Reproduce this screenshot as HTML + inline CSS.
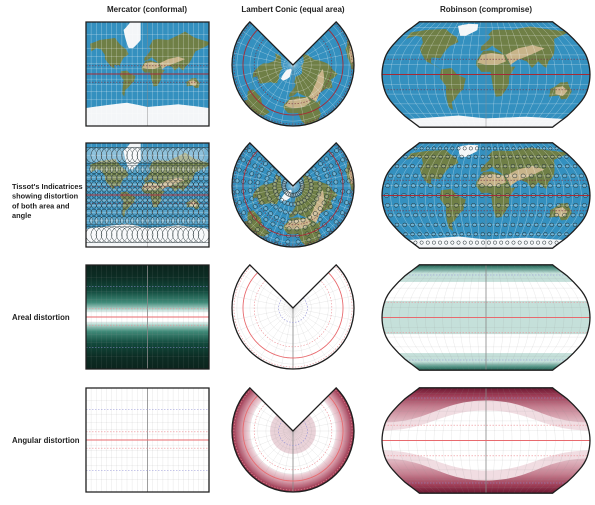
<!DOCTYPE html>
<html><head><meta charset="utf-8"><style>
html,body{margin:0;padding:0;background:#fff;}
svg{display:block;font-family:"Liberation Sans",sans-serif;}
</style></head><body>
<svg id="fig" width="595" height="505" viewBox="0 0 595 505" xmlns="http://www.w3.org/2000/svg">
<defs>
<linearGradient id="mercArea" x1="0" y1="0" x2="0" y2="1">
<stop offset="0" stop-color="#0b241d"/><stop offset="0.12" stop-color="#0c2d24"/><stop offset="0.25" stop-color="#124a3d"/><stop offset="0.36" stop-color="#3f8a78"/><stop offset="0.43" stop-color="#b9dcd4"/><stop offset="0.46" stop-color="#ffffff"/><stop offset="0.54" stop-color="#ffffff"/><stop offset="0.57" stop-color="#b9dcd4"/><stop offset="0.64" stop-color="#3f8a78"/><stop offset="0.75" stop-color="#124a3d"/><stop offset="0.88" stop-color="#0c2d24"/><stop offset="1" stop-color="#0b241d"/>
</linearGradient>
<radialGradient id="conAng" gradientUnits="userSpaceOnUse" cx="293" cy="431" r="61">
<stop offset="0" stop-color="#ead3d9"/><stop offset="0.37" stop-color="#ead3d9"/><stop offset="0.38" stop-color="#ffffff"/><stop offset="0.7" stop-color="#ffffff"/><stop offset="0.72" stop-color="#efd6dc"/><stop offset="0.84" stop-color="#d59aa8"/><stop offset="0.93" stop-color="#b4596f"/><stop offset="1" stop-color="#8c2a44"/>
</radialGradient>
<linearGradient id="robAng" x1="0" y1="0" x2="0" y2="1">
<stop offset="0" stop-color="#6a1830"/><stop offset="0.07" stop-color="#9c3a54"/><stop offset="0.18" stop-color="#c47e8f"/><stop offset="0.32" stop-color="#e2bac4"/><stop offset="0.5" stop-color="#ecd0d6"/><stop offset="0.68" stop-color="#e2bac4"/><stop offset="0.82" stop-color="#c47e8f"/><stop offset="0.93" stop-color="#9c3a54"/><stop offset="1" stop-color="#6a1830"/>
</linearGradient>
<linearGradient id="robArea" x1="0" y1="0" x2="0" y2="1">
<stop offset="0" stop-color="#1f5e50"/><stop offset="0.04" stop-color="#5f9d8f"/><stop offset="0.08" stop-color="#c5e0da"/><stop offset="0.16" stop-color="#c5e0da"/><stop offset="0.165" stop-color="#ffffff"/><stop offset="0.34" stop-color="#ffffff"/><stop offset="0.345" stop-color="#c5e0da"/><stop offset="0.655" stop-color="#c5e0da"/><stop offset="0.66" stop-color="#ffffff"/><stop offset="0.835" stop-color="#ffffff"/><stop offset="0.84" stop-color="#c5e0da"/><stop offset="0.92" stop-color="#c5e0da"/><stop offset="0.96" stop-color="#5f9d8f"/><stop offset="1" stop-color="#1f5e50"/>
</linearGradient>
</defs>
<g font-size="8" font-weight="bold" fill="#222" text-anchor="middle">
<text x="147" y="12">Mercator (conformal)</text>
<text x="293" y="12">Lambert Conic (equal area)</text>
<text x="486" y="12">Robinson (compromise)</text>
</g>
<g font-size="7.4" font-weight="bold" fill="#222">
<text x="12" y="189"><tspan x="12">Tissot's Indicatrices</tspan><tspan x="12" dy="9.7">showing distortion</tspan><tspan x="12" dy="9.7">of both area and</tspan><tspan x="12" dy="9.7">angle</tspan></text>
<text x="12" y="320" font-size="7.8">Areal distortion</text>
<text x="12" y="443" font-size="7.8">Angular distortion</text>
</g>
<g id="maps"></g>
</svg>
<script>
// ---- data ----
const rowTops = [22, 143, 265, 388];
const gratLats = [-75,-60,-45,-30,-15,15,30,45,60,75];
const gratLons = [-165,-150,-135,-120,-105,-90,-75,-60,-45,-30,-15,0,15,30,45,60,75,90,105,120,135,150,165];
const tropicLats = [23.4, -23.4];
const polarLats = [66.5, -66.5];
const robX = [1,0.9986,0.9954,0.99,0.9822,0.973,0.96,0.9427,0.9216,0.8962,0.8679,0.84,0.81,0.78,0.745,0.71,0.68,0.655,0.64];
const robY = [0,0.062,0.124,0.186,0.248,0.31,0.372,0.434,0.4958,0.5571,0.6176,0.6769,0.7346,0.7903,0.8435,0.8936,0.9394,0.9761,1.0];
const landNames = ['north-america','south-america','eurasia','africa','australia'];
const landPolys = [
[[-168,66],[-140,70],[-95,72],[-80,65],[-62,58],[-55,50],[-70,43],[-76,35],[-81,25],[-97,26],[-97,18],[-85,12],[-78,8],[-92,15],[-105,20],[-117,32],[-124,40],[-125,49],[-135,58],[-150,60],[-165,55]],
[[-78,8],[-60,10],[-50,0],[-35,-6],[-40,-22],[-48,-28],[-58,-38],[-65,-42],[-68,-55],[-74,-50],[-72,-30],[-70,-18],[-80,-5]],
[[-10,36],[-9,43],[-2,48],[5,53],[10,58],[5,62],[15,70],[30,71],[60,70],[80,73],[110,77],[140,72],[180,68],[180,65],[160,60],[140,55],[130,42],[122,30],[110,20],[105,10],[100,13],[92,20],[80,10],[72,20],[57,25],[50,30],[43,13],[35,28],[30,32],[25,36],[12,44],[0,38]],
[[-17,21],[-10,30],[-5,36],[10,37],[32,31],[35,28],[43,12],[51,12],[40,-3],[40,-15],[35,-24],[28,-33],[18,-34],[12,-18],[9,-2],[8,4],[-8,4],[-17,14]],
[[114,-22],[122,-18],[130,-12],[137,-12],[142,-11],[146,-18],[153,-26],[150,-37],[140,-38],[132,-32],[115,-34]]
];
const desertNames = ['sahara','arabia-central-asia','australia-interior'];
const desertPolys = [
[[-15,18],[-8,30],[10,33],[32,30],[35,20],[20,15],[0,15]],
[[35,30],[60,40],[90,45],[110,40],[80,30],[55,22],[43,15]],
[[122,-20],[135,-18],[145,-25],[140,-33],[125,-30]]
];
const iceNames = ['greenland','antarctica'];
const icePolys = [
[[-55,60],[-43,60],[-20,70],[-20,82],[-45,83],[-70,78]],
[[-180,-70],[-60,-64],[0,-69],[90,-66],[180,-70],[180,-90],[-180,-90]]
];
const tissotLats = [-75,-60,-45,-30,-15,0,15,30,45,60,75];
const tissotLons = [-172,-157,-142,-127,-112,-97,-82,-67,-52,-37,-22,-7,7,22,37,52,67,82,97,112,127,142,157,172];

// ---- projections ----
const NS='http://www.w3.org/2000/svg';
const D=Math.PI/180;
function merc(top){const R=123/(2*Math.PI),cy=top+52;return (lon,lat)=>{const p=Math.max(-85,Math.min(85,lat))*D;return [86+(lon+180)/360*123, cy-R*Math.log(Math.tan(Math.PI/4+p/2))];};}
function conic(top){const cx=293,cy=top+43;return (lon,lat)=>{const r=50*Math.sqrt(Math.max(0,1-Math.sin(lat*D)));const a=0.75*lon*D;return [cx+r*Math.sin(a), cy+r*Math.cos(a)];};}
function rob(top){const cx=486,cy=top+52.5;return (lon,lat)=>{const al=Math.min(90,Math.abs(lat));const i=Math.min(17,Math.floor(al/5));const f=(al-i*5)/5;const X=robX[i]+(robX[i+1]-robX[i])*f;const Y=robY[i]+(robY[i+1]-robY[i])*f;return [cx+33.1*X*lon*D, cy-52.7*Y*Math.sign(lat)];};}
function dens(pts,closed){const out=[];const n=pts.length;const m=closed?n:n-1;for(let i=0;i<m;i++){const a=pts[i],b=pts[(i+1)%n];for(let k=0;k<8;k++){out.push([a[0]+(b[0]-a[0])*k/8,a[1]+(b[1]-a[1])*k/8]);}}if(!closed)out.push(pts[n-1]);return out;}
function pathOf(P,pts,closed){return dens(pts,closed).map((p,i)=>{const q=P(p[0],p[1]);return (i?'L':'M')+q[0].toFixed(2)+','+q[1].toFixed(2);}).join('')+(closed?'Z':'');}
function mk(tag,attrs,parent){const e=document.createElementNS(NS,tag);for(const k in attrs)e.setAttribute(k,attrs[k]);parent.appendChild(e);return e;}
function latLine(lat){const a=[];for(let l=-180;l<=180;l+=15)a.push([l,lat]);return a;}
function lonLine(lon){const a=[];for(let l=-90;l<=90;l+=15)a.push([lon,l]);return a;}

const maps=document.getElementById('maps');
const defs=document.querySelector('defs');
function outline(kind,top){
  if(kind==='merc')return 'M86,'+top+'h123v104h-123Z';
  if(kind==='conic'){const cx=293,cy=top+43,s=61*Math.SQRT1_2;return 'M'+cx+','+cy+'L'+(cx-s)+','+(cy-s)+'A61,61 0 1 0 '+(cx+s)+','+(cy-s)+'Z';}
  const P=rob(top);const L=[];for(let la=90;la>=-90;la-=5)L.push(P(-180,la));const Rr=[];for(let la=-90;la<=90;la+=5)Rr.push(P(180,la));
  return 'M'+L.map(p=>p[0].toFixed(2)+','+p[1].toFixed(2)).join('L')+'L'+Rr.map(p=>p[0].toFixed(2)+','+p[1].toFixed(2)).join('L')+'Z';
}
const kinds=['merc','conic','rob'];
const projFns={merc:merc,conic:conic,rob:rob};
let cid=0;
rowTops.forEach((top,row)=>{
  kinds.forEach(kind=>{
    const P=projFns[kind](top);
    const od=outline(kind,top);
    const cp=mk('clipPath',{id:'c'+cid},defs);
    mk('path',{d:od},cp);
    const g=mk('g',{'clip-path':'url(#c'+cid+')'},maps);
    
    
    cid++;
    if(row<2){
      const ocean=mk('path',{d:od,fill:'#3490bf'},g);
      
      
      landPolys.forEach((pl,i)=>{
        const e=mk('path',{d:pathOf(P,pl,true),fill:'#6f7f46'},g);
        
        
      });
      desertPolys.forEach((pl,i)=>{
        const e=mk('path',{d:pathOf(P,pl,true),fill:'#c8b48a'},g);
        
        
      });
      icePolys.forEach((pl,i)=>{
        const e=mk('path',{d:pathOf(P,pl,true),fill:'#f4f6f8'},g);
        
        
      });
    } else if(row===2){
      let fill='#fff';
      if(kind==='merc')fill='url(#mercArea)';
      if(kind==='rob')fill='url(#robArea)';
      const bg=mk('path',{d:od,fill:fill},g);
      
      
    } else {
      let fill='#fff';
      if(kind==='conic')fill='url(#conAng)';
      if(kind==='rob')fill='url(#robAng)';
      const bg=mk('path',{d:od,fill:fill},g);
      
      
      if(kind==='rob'){
        const cy=top+52.5;
        const l1=mk('path',{d:'M382,'+(cy-18)+'C430,'+(cy-18)+' 440,'+(cy-40)+' 486,'+(cy-40)+'C532,'+(cy-40)+' 542,'+(cy-18)+' 590,'+(cy-18)+'L590,'+(cy+18)+'C542,'+(cy+18)+' 532,'+(cy+40)+' 486,'+(cy+40)+'C440,'+(cy+40)+' 430,'+(cy+18)+' 382,'+(cy+18)+'Z',fill:'#f1dde2'},g);
        
        
        const l2=mk('path',{d:'M382,'+(cy-10)+'C430,'+(cy-10)+' 440,'+(cy-30)+' 486,'+(cy-30)+'C532,'+(cy-30)+' 542,'+(cy-10)+' 590,'+(cy-10)+'L590,'+(cy+10)+'C542,'+(cy+10)+' 532,'+(cy+30)+' 486,'+(cy+30)+'C440,'+(cy+30)+' 430,'+(cy+10)+' 382,'+(cy+10)+'Z',fill:'#ffffff'},g);
        
        
      }
    }
    const gs=row<2?'rgba(255,255,255,0.45)':'rgba(150,150,150,0.22)';
    gratLats.forEach(la=>{
      const e=mk('path',{d:pathOf(P,latLine(la),false),fill:'none',stroke:gs,'stroke-width':0.5},g);
      
      
    });
    gratLons.forEach(lo=>{
      const e=mk('path',{d:pathOf(P,lonLine(lo),false),fill:'none',stroke:gs,'stroke-width':0.5},g);
      
      
    });
    if(row===1){
      tissotLats.forEach(la=>{
        tissotLons.forEach(lo=>{
          const c=P(lo,la);
          let rx=2.1,ry=2.1;
          if(kind==='merc'){rx=ry=2.1/Math.cos(la*D);}
          if(kind==='rob'){rx=2.4*(1-Math.abs(la)/250);ry=2.1*(1-Math.abs(la)/400);}
          const e=mk('ellipse',{cx:c[0].toFixed(2),cy:c[1].toFixed(2),rx:rx.toFixed(2),ry:ry.toFixed(2),fill:'rgba(255,255,255,0.18)',stroke:'#1d2b2f','stroke-width':0.5},g);
          
          
        });
      });
    }
    if(row>=2){
      const cm=mk('path',{d:pathOf(P,[[0,90],[0,-90]],false),fill:'none',stroke:'#888','stroke-width':0.8},g);
      
      
      polarLats.forEach(la=>{
        const e=mk('path',{d:pathOf(P,latLine(la),false),fill:'none',stroke:'#8f8fd6','stroke-width':0.6,'stroke-dasharray':'1.5,1.5'},g);
        
        
      });
    } else {
      const cm=mk('path',{d:pathOf(P,[[0,90],[0,-90]],false),fill:'none',stroke:'rgba(80,80,80,0.5)','stroke-width':0.6},g);
      
      
    }
    tropicLats.forEach(la=>{
      const e=mk('path',{d:pathOf(P,latLine(la),false),fill:'none',stroke:row<2?'#7a3040':'#ec8f95','stroke-width':0.6,'stroke-dasharray':'1.5,1.5'},g);
      
      
    });
    const eq=mk('path',{d:pathOf(P,latLine(0),false),fill:'none',stroke:row<2?'#a52a35':'#e86a6e','stroke-width':0.9},g);
    
    
    const fr=mk('path',{d:od,fill:'none',stroke:'#1e1e1e','stroke-width':1.3,'stroke-linejoin':'miter'},maps);
    
    
  });
});
</script>
</body></html>
